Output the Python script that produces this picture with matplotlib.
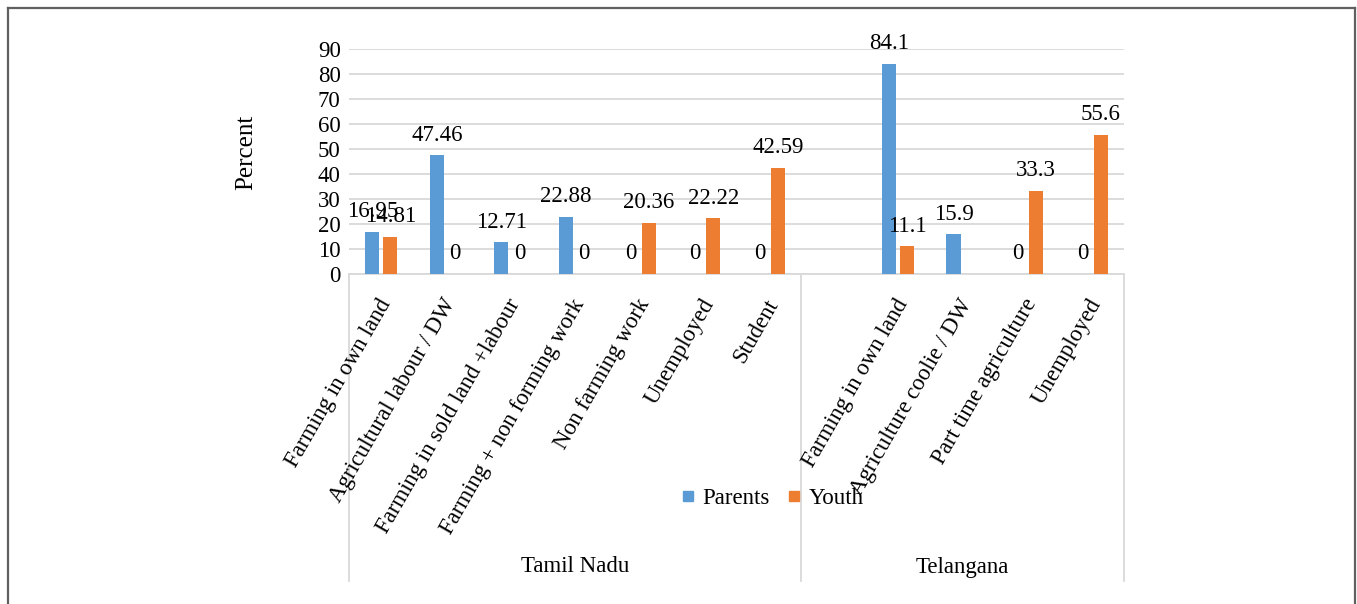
import numpy as np
import matplotlib
matplotlib.use('Agg')
import matplotlib.pyplot as plt
from matplotlib.lines import Line2D
import matplotlib.transforms as mtransforms

plt.rcParams['font.family'] = ['Liberation Serif', 'DejaVu Serif']
plt.rcParams['font.size'] = 16

# data
categories = ['Farming in own land', 'Agricultural labour / DW', 'Farming in sold land +labour',
              'Farming + non forming work', 'Non farming work', 'Unemployed', 'Student',
              '',
              'Farming in own land', 'Agriculture coolie / DW', 'Part time agriculture', 'Unemployed']
parents = [16.95, 47.46, 12.71, 22.88, 0, 0, 0, None, 84.1, 15.9, 0, 0]
youth = [14.81, 0, 0, 0, 20.36, 22.22, 42.59, None, 11.1, None, 33.3, 55.6]
groups = ['Tamil Nadu', 'Telangana']
group_sizes = [7, 5]

blue = '#5B9BD5'
orange = '#ED7D31'
grid_c = '#D9D9D9'

fig = plt.figure(figsize=(13.57, 6.04), dpi=100)
ax = fig.add_axes([349 / 1357, 1 - 274 / 604, 775 / 1357, 225 / 604])

x = np.arange(len(categories))
w = 0.217
off = 0.14

for vals, dx, col in [(parents, -off, blue), (youth, off, orange)]:
    for xi, v in zip(x, vals):
        if v is None:
            continue
        ax.bar(xi + dx, v, width=w, color=col, zorder=3)
        ax.annotate(f'{v:g}', (xi + dx, v), xytext=(0, 7), textcoords='offset points',
                    ha='center', va='bottom', fontsize=16.5, zorder=4)

ax.set_xlim(-0.5, len(categories) - 0.5)
ax.set_ylim(0, 90)
ax.set_yticks(range(0, 91, 10))
ax.tick_params(axis='y', length=0, pad=6, labelsize=16.5)
ax.yaxis.grid(True, color=grid_c, linewidth=1.3, zorder=0)
ax.set_xticks([])
for s in ['top', 'right', 'left']:
    ax.spines[s].set_visible(False)
ax.spines['bottom'].set_color(grid_c)
ax.spines['bottom'].set_linewidth(1.3)

ax.set_ylabel('Percent', fontsize=18)
ax.yaxis.set_label_coords(-0.118, 0.54)

# category labels
xt = ax.get_xaxis_transform()
shift = mtransforms.ScaledTranslation(-4 / 100, -21 / 100, fig.dpi_scale_trans)
for xi, lab in zip(x, categories):
    if lab:
        ax.text(xi, 0, lab, transform=xt + shift, rotation=60, rotation_mode='anchor',
                ha='right', va='top', fontsize=16.5)

# group separators and labels
bottom = -(581 - 274) / 225
start = -0.5
bounds = [start]
for g, n in zip(groups, group_sizes):
    end = start + n
    ax.text((start + end) / 2, -(567 - 274) / 225, g, transform=xt,
            ha='center', va='center', fontsize=16.5)
    bounds.append(end)
    start = end
for b in bounds:
    ax.plot([b, b], [0, bottom], transform=xt, color=grid_c, linewidth=1.3, clip_on=False)

handles = [Line2D([], [], marker='s', linestyle='', markersize=7.5, color=blue),
           Line2D([], [], marker='s', linestyle='', markersize=7.5, color=orange)]
fig.legend(handles, ['Parents', 'Youth'], loc='center', bbox_to_anchor=(770 / 1357, 1 - 498 / 604),
           ncol=2, frameon=False, handletextpad=0.1, columnspacing=0.6, handlelength=1.0, fontsize=16.5)

# outer frame
fc = '#606060'
fig.add_artist(Line2D([7.5 / 1357, 7.5 / 1357], [1 - 8 / 604, 0], color=fc, linewidth=1.6))
fig.add_artist(Line2D([7.5 / 1357, 1354.5 / 1357], [1 - 8 / 604, 1 - 8 / 604], color=fc, linewidth=1.6))
fig.add_artist(Line2D([1354.5 / 1357, 1354.5 / 1357], [1 - 8 / 604, 0], color=fc, linewidth=1.6))

fig.savefig('out.png', dpi=100)
